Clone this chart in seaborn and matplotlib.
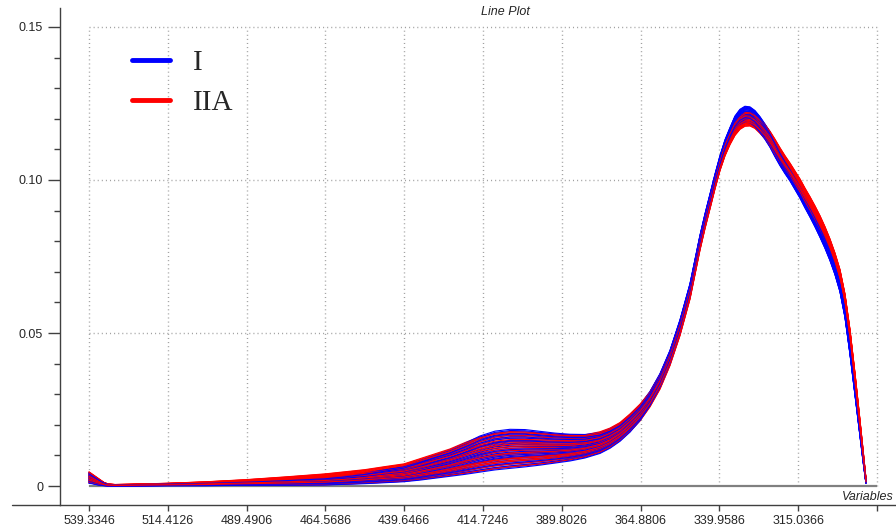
import pandas as pd
import seaborn as sns
import matplotlib.pyplot as plt
from matplotlib.lines import Line2D

# wavelengths (nm)
wavelength = [539.33, 538.39, 537.44, 536.49, 535.54, 534.59, 533.33, 531.11,
              526.37, 514.67, 502.33, 489.68, 477.34, 464.70, 458.37,
              452.05, 445.72, 439.71, 434.65, 429.91, 425.16, 420.42, 415.67,
              410.93, 406.19, 401.44, 396.70, 391.96, 387.21, 382.47, 377.73,
              374.56, 371.40, 368.24, 365.07, 361.91, 358.75, 355.59, 352.42, 349.26,
              346.10, 344.52, 342.93, 341.35, 339.77, 338.19, 336.61, 335.03,
              333.45, 331.87, 330.29, 328.71, 327.12, 325.54, 323.96, 322.38,
              320.80, 319.22, 317.64, 316.06, 314.47, 312.89, 311.31, 309.73,
              308.15, 306.57, 304.99, 303.41, 301.83, 300.24, 298.66, 297.08,
              295.82, 294.55, 293.60]

# lower / upper edge of the band of spectra, group I (blue)
blue_low = [0.0008, 0.0007, 0.0005, 0.0003, 0.0002, 0.0001, 0.0000, 0.0000,
            0.0000, 0.0001, 0.0001, 0.0002, 0.0002, 0.0003, 0.0005,
            0.0007, 0.0010, 0.0013, 0.0018, 0.0024, 0.0030, 0.0036, 0.0043,
            0.0050, 0.0055, 0.0060, 0.0066, 0.0073, 0.0080, 0.0090, 0.0105,
            0.0122, 0.0145, 0.0175, 0.0213, 0.0262, 0.0322, 0.0400, 0.0500, 0.0620,
            0.0780, 0.0850, 0.0915, 0.0980, 0.1040, 0.1090, 0.1128, 0.1160,
            0.1180, 0.1188, 0.1186, 0.1174, 0.1154, 0.1132, 0.1106, 0.1075,
            0.1046, 0.1020, 0.0996, 0.0968, 0.0940, 0.0908, 0.0878, 0.0846,
            0.0812, 0.0776, 0.0736, 0.0690, 0.0634, 0.0550, 0.0430, 0.0297,
            0.0190, 0.0082, 0.0008]
blue_high = [0.0045, 0.0038, 0.0031, 0.0024, 0.0017, 0.0011, 0.0006, 0.0004,
             0.0005, 0.0007, 0.0010, 0.0014, 0.0020, 0.0027, 0.0034,
             0.0043, 0.0055, 0.0066, 0.0085, 0.0103, 0.0120, 0.0142, 0.0166,
             0.0182, 0.0188, 0.0187, 0.0181, 0.0175, 0.0171, 0.0170, 0.0176,
             0.0188, 0.0205, 0.0233, 0.0265, 0.0310, 0.0368, 0.0444, 0.0544, 0.0662,
             0.0820, 0.0890, 0.0955, 0.1020, 0.1080, 0.1132, 0.1172, 0.1210,
             0.1232, 0.1242, 0.1240, 0.1228, 0.1208, 0.1184, 0.1158, 0.1125,
             0.1094, 0.1066, 0.1040, 0.1012, 0.0984, 0.0952, 0.0922, 0.0890,
             0.0856, 0.0820, 0.0778, 0.0730, 0.0672, 0.0587, 0.0467, 0.0332,
             0.0222, 0.0110, 0.0020]

# lower / upper edge of the band of spectra, group IIA (red)
red_low = [0.0010, 0.0009, 0.0007, 0.0005, 0.0003, 0.0002, 0.0001, 0.0001,
           0.0001, 0.0002, 0.0002, 0.0003, 0.0003, 0.0004, 0.0006,
           0.0009, 0.0012, 0.0015, 0.0021, 0.0027, 0.0034, 0.0041, 0.0048,
           0.0055, 0.0061, 0.0066, 0.0071, 0.0077, 0.0085, 0.0095, 0.0110,
           0.0126, 0.0148, 0.0177, 0.0212, 0.0258, 0.0316, 0.0393, 0.0491, 0.0610,
           0.0770, 0.0840, 0.0905, 0.0970, 0.1030, 0.1078, 0.1115, 0.1145,
           0.1165, 0.1175, 0.1176, 0.1168, 0.1152, 0.1134, 0.1110, 0.1084,
           0.1058, 0.1034, 0.1012, 0.0986, 0.0960, 0.0930, 0.0902, 0.0872,
           0.0840, 0.0806, 0.0768, 0.0724, 0.0672, 0.0594, 0.0476, 0.0332,
           0.0212, 0.0092, 0.0010]
red_high = [0.0047, 0.0040, 0.0033, 0.0026, 0.0019, 0.0012, 0.0007, 0.0005,
            0.0006, 0.0009, 0.0014, 0.0021, 0.0030, 0.0040, 0.0047,
            0.0054, 0.0064, 0.0073, 0.0090, 0.0106, 0.0122, 0.0143, 0.0162,
            0.0174, 0.0179, 0.0178, 0.0175, 0.0171, 0.0168, 0.0168, 0.0178,
            0.0190, 0.0208, 0.0236, 0.0268, 0.0308, 0.0364, 0.0438, 0.0536, 0.0652,
            0.0812, 0.0880, 0.0945, 0.1010, 0.1068, 0.1118, 0.1155, 0.1190,
            0.1210, 0.1222, 0.1224, 0.1215, 0.1200, 0.1182, 0.1160, 0.1134,
            0.1106, 0.1080, 0.1056, 0.1030, 0.1004, 0.0974, 0.0946, 0.0916,
            0.0884, 0.0848, 0.0808, 0.0762, 0.0708, 0.0628, 0.0512, 0.0370,
            0.0248, 0.0122, 0.0025]

# position of each sample inside its group's band (0 = lower edge, 1 = upper edge)
blue_weights = [0.05, 0.92, 0.31, 0.67, 0.18, 0.83, 0.45, 0.59, 0.12, 0.76,
                0.38, 0.98, 0.26, 0.51, 0.71, 0.08, 0.88, 0.42, 0.63, 0.22,
                0.95, 0.34, 0.55, 0.79, 0.15, 0.48, 0.69, 0.02, 0.86, 0.29]
red_weights = [0.74, 0.11, 0.57, 0.93, 0.36, 0.62, 0.04, 0.81, 0.27, 0.49,
               0.99, 0.16, 0.68, 0.41, 0.85, 0.23, 0.53, 0.09, 0.77, 0.33,
               0.64, 0.96, 0.19, 0.46, 0.72, 0.01, 0.58, 0.89, 0.39, 0.25]

xtick_values = [539.3346, 514.4126, 489.4906, 464.5686, 439.6466,
                414.7246, 389.8026, 364.8806, 339.9586, 315.0366, 290.1146]
xtick_labels = ['539.3346', '514.4126', '489.4906', '464.5686', '439.6466',
                '414.7246', '389.8026', '364.8806', '339.9586', '315.0366', '']
ytick_values = [0, 0.05, 0.10, 0.15]
ytick_labels = ['0', '0.05', '0.10', '0.15']

# long form table, samples interleaved so neither colour sits fully on top
rows = []
order = []
palette = {}
for i in range(len(blue_weights)):
    for grp, w, lo, hi, col in [('I', blue_weights[i], blue_low, blue_high, '#0000ff'),
                                ('IIA', red_weights[i], red_low, red_high, '#ff0000')]:
        name = f'{grp}_{i}'
        order.append(name)
        palette[name] = col
        for wl, a, b in zip(wavelength, lo, hi):
            rows.append({'wavelength': wl, 'absorbance': a + w * (b - a),
                         'sample': name, 'grupo': grp})
dados = pd.DataFrame(rows)

sns.set_style('white')
plt.rcParams['font.family'] = ['Liberation Sans', 'DejaVu Sans']

fig = plt.figure(figsize=(8.96, 5.25), dpi=100)
ax = fig.add_axes([60 / 896, 20 / 525, 836 / 896, 497 / 525])

# grid box, only inside the data region
grade = (0, (0.75, 2.2))
ax.vlines(xtick_values, 0, 0.15, colors='#a0a0a0', linestyles=grade, lw=1, zorder=0)
ax.hlines([0.05, 0.10, 0.15], 539.3346, 290.1146, colors='#a0a0a0',
          linestyles=grade, lw=1, zorder=0)
ax.hlines(0, 539.3346, 290.1146, colors='#808080', lw=1.6, zorder=1)

sns.lineplot(data=dados, x='wavelength', y='absorbance', hue='sample',
             hue_order=order, palette=palette, estimator=None, sort=False,
             lw=0.8, legend=False, ax=ax)

ax.set_xlim(548.5, 284.1)
ax.set_ylim(-0.0062, 0.1562)
ax.set_xticks(xtick_values)
ax.set_xticklabels(xtick_labels, fontsize=9)
ax.set_yticks(ytick_values)
ax.set_yticklabels(ytick_labels, fontsize=9)
ax.set_yticks([0.01, 0.02, 0.03, 0.04, 0.06, 0.07, 0.08, 0.09,
               0.11, 0.12, 0.13, 0.14], minor=True)
ax.tick_params(axis='y', which='major', length=8.6, width=1, color='#404040',
               pad=3.5, left=True)
ax.tick_params(axis='y', which='minor', length=4.2, width=1, color='#404040', left=True)
ax.tick_params(axis='x', length=4, width=1, color='#404040', pad=3, bottom=True)
ax.set_xlabel('')
ax.set_ylabel('')
for lado in ['top', 'right']:
    ax.spines[lado].set_visible(False)
for lado in ['left', 'bottom']:
    ax.spines[lado].set_color('#404040')
    ax.spines[lado].set_linewidth(1)

# bottom axis line runs on past the y axis
fig.add_artist(Line2D([12 / 896, 60 / 896], [20 / 525, 20 / 525],
                      color='#404040', lw=1))

handles = [Line2D([], [], color='#0000ff', lw=3.5),
           Line2D([], [], color='#ff0000', lw=3.5)]
ax.legend(handles, ['I', 'IIA'], loc='upper left', bbox_to_anchor=(120 / 896, 1 - 38 / 525),
          bbox_transform=fig.transFigure, frameon=False,
          prop={'family': 'Liberation Serif', 'size': 21},
          handlelength=1.3, handletextpad=0.8, labelspacing=0.48, borderaxespad=0)

fig.text(505 / 896, 1 - 12 / 525, 'Line Plot', ha='center', va='center',
         fontsize=9, style='italic')
fig.text(894 / 896, 1 - 497 / 525, 'Variables', ha='right', va='center',
         fontsize=9, style='italic')

fig.savefig('out.png', dpi=100)
